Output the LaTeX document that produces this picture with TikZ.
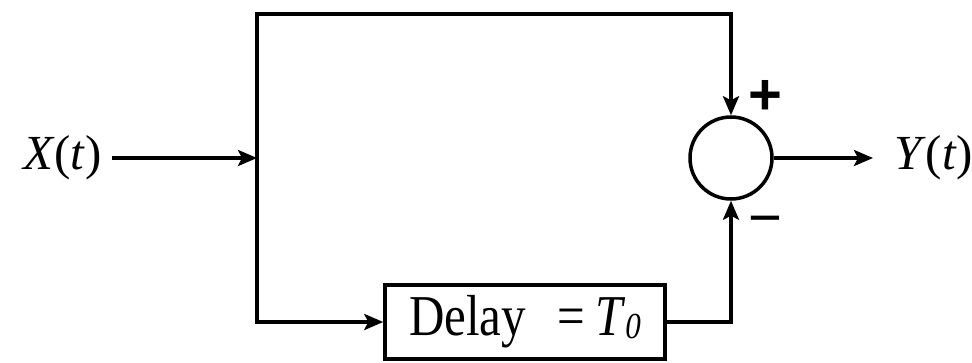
\documentclass[tikz,border=0pt]{standalone}
\usepackage{fontspec}
\usepackage{graphicx}
\setmainfont{Liberation Serif}
\newfontfamily\signfont{Liberation Sans}
\usetikzlibrary{arrows.meta}
\tikzset{
  wire/.style={line width=3.5pt, line join=miter},
  arr/.style={wire, -{Stealth[length=19pt,width=16pt,inset=4pt]}},
  sumnode/.style={circle, draw, line width=3.5pt, minimum size=82pt, inner sep=0pt},
  blocknode/.style={rectangle, draw, line width=3.5pt, minimum width=280pt, minimum height=74pt, inner sep=0pt},
  sig/.style={font=\fontsize{49}{58}\selectfont, inner ysep=0pt},
  signlab/.style={font=\signfont\bfseries\fontsize{58}{58}\selectfont, inner sep=0pt}
}
\begin{document}
\begin{tikzpicture}[x=1pt,y=-1pt]
\useasboundingbox (0,0) rectangle (972,363);
\node[sig, inner xsep=10pt, anchor=east] (X) at (112,158) {\textit{X}(\textit{t})};
\coordinate (j) at (257,158);
\node[sumnode] (sum) at (731,158) {};
\node[blocknode] (delay) at (525,322) {\scalebox{1}[1.18]{\fontsize{49}{58}\selectfont Delay\hspace{0.65em}=\hspace{0.2em}\textit{T}\raisebox{-2pt}{\fontsize{31}{31}\selectfont\textit{0}}}};
\node[sig, inner xsep=21pt, anchor=west] (Y) at (873,158) {\textit{Y}(\textit{t})};
\coordinate (tl) at (257,14);
\coordinate (tr) at (731,14);
\coordinate (bl) at (257,322);
\coordinate (br) at (731,322);
\draw[arr] (X.east) -- (j);
\draw[arr] (j) -- (tl) -- (tr) -- (sum.north);
\draw[arr] (j) -- (bl) -- (delay.west);
\draw[arr] (delay.east) -- (br) -- (sum.south);
\draw[arr] (sum.east) -- (Y.west);
\node[signlab] (plus) at (765,97) {+};
\node[signlab, font=\signfont\fontsize{58}{58}\selectfont] (minus) at (765,227) {\char"2212};
\end{tikzpicture}
\end{document}
